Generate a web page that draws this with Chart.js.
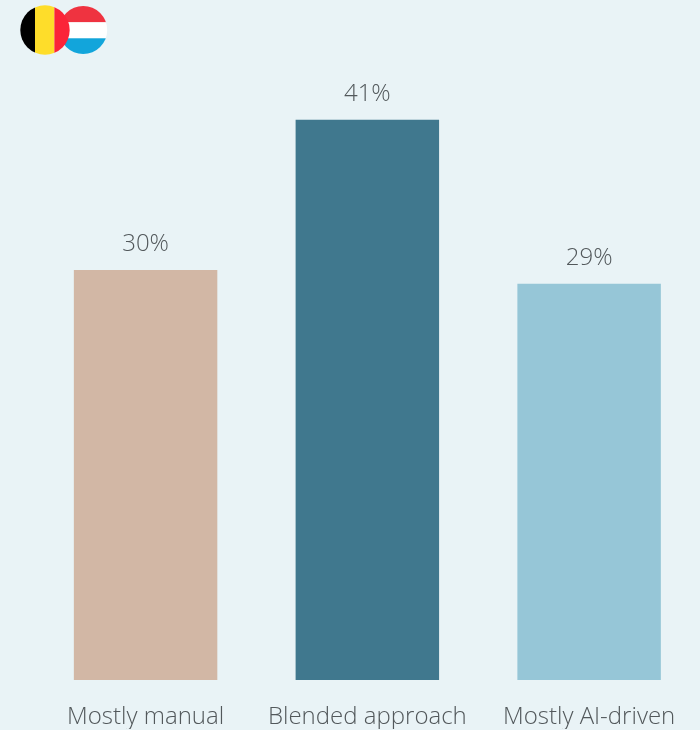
<!DOCTYPE html>
<html>
<head>
<meta charset="utf-8">
<title>Approach</title>
<style>
	html, body { margin: 0; padding: 0; background: #e9f3f6; }
	#wrap { position: relative; width: 700px; height: 730px; overflow: hidden; }
	#chart { display: block; }
	#flags { position: absolute; left: 0; top: 0; }
</style>
<script src="https://cdn.jsdelivr.net/npm/chart.js@4/dist/chart.umd.min.js"></script>
</head>
<body>
<div id="wrap">
	<canvas id="chart" width="700" height="730"></canvas>
	<svg id="flags" width="130" height="70">
		<defs>
			<clipPath id="be"><circle cx="45" cy="30" r="24.7"></circle></clipPath>
			<clipPath id="lu"><circle cx="83.2" cy="30" r="24"></circle></clipPath>
		</defs>
		<g clip-path="url(#lu)">
			<rect x="58" y="5" width="52" height="17.3" fill="#ef3340"></rect>
			<rect x="58" y="22.3" width="52" height="16" fill="#ffffff"></rect>
			<rect x="58" y="38.3" width="52" height="17" fill="#12a5db"></rect>
		</g>
		<g clip-path="url(#be)">
			<rect x="19" y="4" width="16" height="52" fill="#000000"></rect>
			<rect x="35" y="4" width="19.4" height="52" fill="#fedd2a"></rect>
			<rect x="54.4" y="4" width="16" height="52" fill="#fb2438"></rect>
		</g>
	</svg>
</div>
<script>
const categories = ["Mostly manual", "Blended approach", "Mostly AI-driven"];
const shares = [30, 41, 29];
const barColors = ["#d2b7a5", "#40788e", "#96c6d7"];

const textColor = "#52585b";
const fontFamily = "'Open Sans', sans-serif";

// writes the percentage above each bar
const valueLabels = {
	id: "valueLabels",
	afterDatasetsDraw: function (chart) {
		const ctx = chart.ctx;
		const bars = chart.getDatasetMeta(0).data;
		ctx.save();
		ctx.font = "300 24px " + fontFamily;
		ctx.fillStyle = textColor;
		ctx.textAlign = "center";
		ctx.textBaseline = "alphabetic";
		bars.forEach(function (bar, i) {
			ctx.fillText(shares[i] + "%", bar.x, bar.y - 19);
		});
		ctx.restore();
	},
};

new Chart(document.getElementById("chart").getContext("2d"), {
	type: "bar",
	data: {
		labels: categories,
		datasets: [
			{
				data: shares,
				backgroundColor: barColors,
				categoryPercentage: 1,
				barPercentage: 0.647,
			},
		],
	},
	options: {
		responsive: false,
		animation: false,
		layout: {
			padding: { left: 34.7, right: 0, top: 65, bottom: 1 },
		},
		scales: {
			x: {
				grid: { display: false, tickLength: 25 },
				border: { display: false },
				ticks: {
					color: textColor,
					font: { family: fontFamily, size: 24, weight: "300", lineHeight: 1 },
					padding: 0,
					maxRotation: 0,
					autoSkip: false,
				},
			},
			y: {
				display: false,
				min: 0,
				max: 45,
			},
		},
		plugins: {
			legend: { display: false },
			tooltip: { enabled: false },
		},
	},
	plugins: [valueLabels],
});
</script>
</body>
</html>
